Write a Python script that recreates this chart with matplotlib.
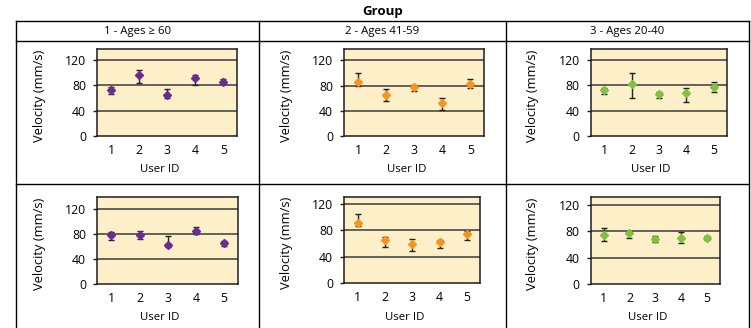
import matplotlib
matplotlib.use("Agg")
import matplotlib.pyplot as plt
from matplotlib.lines import Line2D

W, H = 751, 328
plt.rcParams['font.family'] = ['Open Sans', 'DejaVu Sans']

users = [1, 2, 3, 4, 5]
groups = ["1 - Ages \u2265 60", "2 - Ages 41-59", "3 - Ages 20-40"]
yticks = [0, 40, 80, 120]

# top row: mean, upper end, lower end of each error bar
g1_top_mean = [72, 97, 65, 91, 86]
g1_top_hi = [78, 105, 74, 97, 90.5]
g1_top_lo = [67, 84, 59.5, 81, 81.5]
g2_top_mean = [85, 65.5, 78, 52.5, 82.5]
g2_top_hi = [99.5, 75, 81.5, 61, 91]
g2_top_lo = [80, 55.5, 71.5, 41.5, 75.5]
g3_top_mean = [72, 82.5, 65.5, 67, 76.5]
g3_top_hi = [76, 98.5, 69.5, 75, 84.5]
g3_top_lo = [65.5, 60, 60.5, 53.5, 68.5]

# bottom row
g1_bot_mean = [78.5, 78.5, 63, 85, 65.5]
g1_bot_hi = [83.5, 85.5, 76.5, 90.5, 69.5]
g1_bot_lo = [71, 71.5, 59, 80.5, 60.5]
g2_bot_mean = [91.5, 66, 59, 61.5, 75]
g2_bot_hi = [104.5, 70.5, 67.5, 65, 79]
g2_bot_lo = [86.5, 55, 48, 53, 65]
g3_bot_mean = [74, 77, 68.5, 70, 70.5]
g3_bot_hi = [86, 81, 72.5, 79.5, 73.5]
g3_bot_lo = [65.5, 69.5, 63.5, 62, 67]

panels = [
    [(g1_top_mean, g1_top_lo, g1_top_hi), (g2_top_mean, g2_top_lo, g2_top_hi), (g3_top_mean, g3_top_lo, g3_top_hi)],
    [(g1_bot_mean, g1_bot_lo, g1_bot_hi), (g2_bot_mean, g2_bot_lo, g2_bot_hi), (g3_bot_mean, g3_bot_lo, g3_bot_hi)],
]
ymax = [[137, 137.5, 136.5], [138.7, 131, 132.8]]

colors = ["#6a2c91", "#f7941d", "#7dc242"]
bg = "#fdefc8"

# plot area boxes in pixels: x0, x1, ytop, ybottom
boxes = [
    [(97.3, 237.3, 49.3, 136), (344.3, 484.3, 49.3, 136), (590.7, 727.3, 49.3, 136)],
    [(97.3, 238.3, 197.3, 284), (344.3, 480.3, 196.7, 283), (590.7, 719.7, 197, 283.7)],
]

fig = plt.figure(figsize=(W / 100, H / 100), dpi=100)


def fx(x):
    return x / W


def fy(y):
    return 1 - y / H


for r in range(2):
    for c in range(3):
        x0, x1, yt, yb = boxes[r][c]
        ax = fig.add_axes([fx(x0), fy(yb), (x1 - x0) / W, (yb - yt) / H])
        ax.set_facecolor(bg)
        mean, lo, hi = panels[r][c]
        err = [[m - l for m, l in zip(mean, lo)], [h - m for h, m in zip(hi, mean)]]
        ax.errorbar(users, mean, yerr=err, fmt='none', ecolor='#222222',
                    elinewidth=1, capsize=2.4, capthick=1, zorder=3)
        ax.plot(users, mean, 'D', color=colors[c], ms=3.6, mec=colors[c], zorder=4)
        ax.set_xlim(0.5, 5.5)
        ax.set_ylim(0, ymax[r][c])
        ax.set_yticks(yticks)
        ax.set_xticks(users)
        for t in yticks[1:]:
            ax.axhline(t, color='#3a3a3a', lw=1.1, zorder=1)
        for s in ax.spines.values():
            s.set_color('#1e1e1e')
            s.set_linewidth(1.1)
        ax.tick_params(axis='y', length=3, width=1, color='#1e1e1e', pad=5, labelsize=8.8)
        ax.tick_params(axis='x', length=0, pad=6, labelsize=8.8)
        # axis titles
        fig.text(fx(x0 - 58), fy((yt + yb) / 2 + 3), "Velocity (mm/s)", rotation=90,
                 ha='center', va='center', fontsize=9.3)
        fig.text(fx((x0 + x1) / 2 - 8), fy(yb + 34), "User ID", ha='center',
                 va='center', fontsize=8.2)

# table frame
lw = 1.0
for y in [21, 40.5, 184]:
    fig.add_artist(Line2D([fx(16), fx(749)], [fy(y), fy(y)], color='black', lw=lw))
for x in [16, 259, 506, 749]:
    fig.add_artist(Line2D([fx(x), fx(x)], [fy(21), fy(328)], color='black', lw=lw))

fig.text(fx(383), fy(12), "Group", ha='center', va='center', fontsize=9.5, fontweight='bold')
for c, (a, b) in enumerate([(16, 259), (259, 506), (506, 749)]):
    fig.text(fx((a + b) / 2), fy(31.5), groups[c], ha='center', va='center', fontsize=8.2)

fig.savefig("out.png", dpi=100)
